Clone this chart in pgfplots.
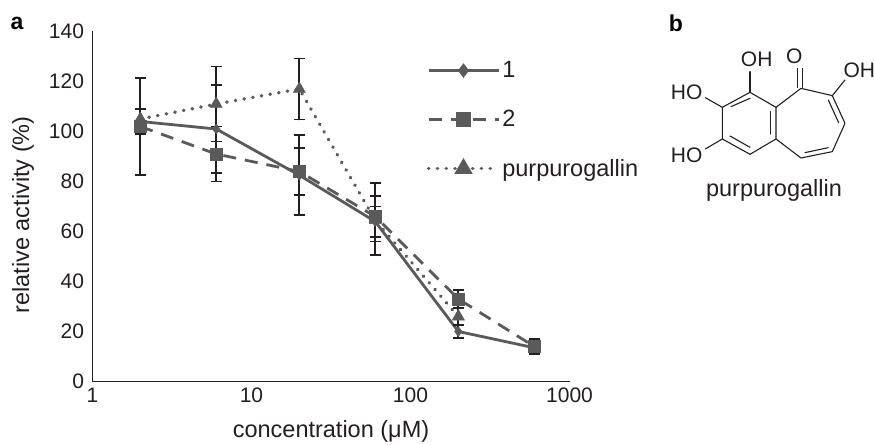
\documentclass[border=0pt]{standalone}
\usepackage{pgfplots}
\pgfplotsset{compat=1.18}
\usepackage{fontspec}
\setmainfont{Liberation Sans}
\definecolor{ser}{HTML}{5A5A5A}
\definecolor{axc}{HTML}{231F20}
\pgfplotsset{ebar/.style={error bars/.cd,y dir=both,y explicit,
  error bar style={color=axc,line width=1.8pt,solid},
  error mark options={rotate=90,color=axc,line width=1.8pt,mark size=5.5pt,solid}}}
\begin{document}
\begin{tikzpicture}[x=1pt,y=1pt]
\path[use as bounding box] (0,0) rectangle (874,444);
\begin{axis}[
  at={(92.5pt,62.5pt)},anchor=south west,
  scale only axis,width=477pt,height=350pt,
  xmode=log,log basis x=10,xmin=1,xmax=1000,ymin=0,ymax=140,
  axis lines=left,axis line style={axc,line width=1.7pt,-},
  xtick={1,10,100,1000},xticklabels={1,10,100,1000},
  ytick={0,20,40,60,80,100,120,140},
  major tick length=0pt,minor tick length=0pt,
  tick label style={font=\fontsize{21}{23}\selectfont,text=axc},
  /pgf/number format/assume math mode=true,
  xticklabel style={yshift=-3pt},
  yticklabel style={xshift=-5pt},
  xlabel={concentration (μM)},
  ylabel={relative activity (\%)},
  label style={font=\fontsize{23.5}{25}\selectfont,text=axc},
  xlabel style={at={(axis description cs:0.5,0)},anchor=center,yshift=-50pt},
  ylabel style={at={(axis description cs:0,0.476)},anchor=center,yshift=69.5pt},
  clip=false,
  legend style={at={(334pt,322pt)},anchor=north west,draw=none,fill=none,
    font=\fontsize{23.5}{25}\selectfont,text=axc,row sep=27pt,inner sep=0pt,
    /tikz/every even column/.append style={column sep=14pt}},
  legend cell align=left,
  legend image code/.code={\draw[mark repeat=2,mark phase=2,#1] plot coordinates {(0pt,0pt)(35pt,0pt)(70pt,0pt)};},
]
\addlegendimage{color=ser,line width=2.8pt,solid,mark=diamond*,mark size=5pt,mark options={solid,fill=ser}}
\addlegendimage{color=ser,line width=2.8pt,dash pattern=on 13pt off 9pt,mark=square*,mark size=6pt,mark options={solid,fill=ser}}
\addlegendimage{color=ser,line width=3.6pt,line cap=round,dash pattern=on 0.3pt off 8.5pt,mark=triangle*,mark size=7pt,mark options={solid,fill=ser}}
\legend{1,2,purpurogallin}
% purpurogallin
\addplot[forget plot,color=ser,line width=3.6pt,line cap=round,dash pattern=on 0.3pt off 8.5pt,mark=triangle*,mark size=7pt,mark options={solid,fill=ser,draw=ser,line width=0.5pt},ebar]
 coordinates {(2,105) +- (0,4) (6,111) +- (0,15) (20,117) +- (0,12.2) (60,64.5) += (0,5.5) -= (0,8.5) (200,26) +- (0,3.3)};
% 2
\addplot[forget plot,color=ser,line width=2.8pt,dash pattern=on 13pt off 9pt,mark=square*,mark size=6pt,mark options={solid,fill=ser,draw=ser,line width=0.5pt},ebar]
 coordinates {(2,102) +- (0,19.5) (6,91) +- (0,11) (20,84) +- (0,9.5) (60,66) +- (0,8.3) (200,33) +- (0,3.6) (600,14) +- (0,3)};
% 1
\addplot[forget plot,color=ser,line width=2.8pt,solid,mark=diamond*,mark size=5pt,mark options={solid,fill=ser,draw=ser,line width=0.5pt},ebar]
 coordinates {(2,104) +- (0,5) (6,101) +- (0,17.6) (20,82.5) +- (0,16) (60,64) += (0,15.5) -= (0,13.5) (200,20) +- (0,2.5) (600,13.5) +- (0,2.5)};
\end{axis}
\node[font=\fontsize{23}{24}\selectfont\bfseries,text=black] at (17,421) {a};
\node[font=\fontsize{23}{24}\selectfont\bfseries,text=black] at (676,421) {b};
% structure of panel b
\begin{scope}[shift={(640,444)},x=0.3333pt,y=-0.3333pt,line width=1.1pt,axc,line cap=round,line join=round]
\draw (330,277)--(408,322)--(408,417)--(330,463)--(247,417)--(247,322)--cycle;
\draw (408,322)--(483,265)--(577,287)--(615,370)--(577,455)--(483,474)--(408,417);
\draw (273,320)--(330,295);
\draw (392,335)--(392,402);
\draw (270,408)--(330,442);
\draw (565,300)--(596,368);
\draw (495,458)--(565,443);
\draw (330,277)--(330,215);
\draw (247,322)--(196,293);
\draw (247,417)--(196,447);
\draw (577,287)--(615,240);
\draw (473,262)--(473,205);
\draw (487,262)--(487,205);
\node[font=\fontsize{21}{23}\selectfont,text=axc] at (350,178) {OH};
\node[font=\fontsize{21}{23}\selectfont,text=axc] at (140,278) {HO};
\node[font=\fontsize{21}{23}\selectfont,text=axc] at (140,465) {HO};
\node[font=\fontsize{21}{23}\selectfont,text=axc] at (463,170) {O};
\node[font=\fontsize{21}{23}\selectfont,text=axc] at (658,210) {OH};
\node[font=\fontsize{23.5}{25}\selectfont,text=axc] at (402,570) {purpurogallin};
\end{scope}
\end{tikzpicture}
\end{document}
